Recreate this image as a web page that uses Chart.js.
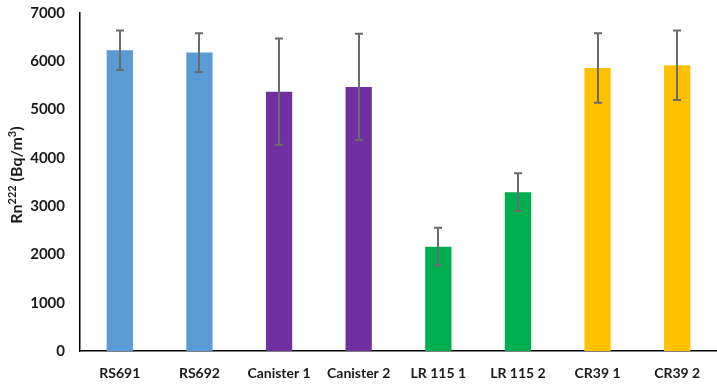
<!DOCTYPE html>
<html>
<head>
<meta charset="utf-8">
<script src="https://cdn.jsdelivr.net/npm/chart.js@4/dist/chart.umd.min.js"></script>
<style>
html,body{margin:0;padding:0;background:#fff;}
#wrap{width:717px;height:384px;}
</style>
</head>
<body>
<div id="wrap"><canvas id="c" width="717" height="384"></canvas></div>
<script>
const categories = ["RS691", "RS692", "Canister 1", "Canister 2", "LR 115 1", "LR 115 2", "CR39 1", "CR39 2"];
const values = [6230, 6180, 5370, 5470, 2160, 3290, 5860, 5920];
const errors = [410, 400, 1100, 1100, 390, 390, 720, 720];
const barColors = ["#5B9BD5", "#5B9BD5", "#7030A0", "#7030A0", "#00B050", "#00B050", "#FFC000", "#FFC000"];
const yTicks = [0, 1000, 2000, 3000, 4000, 5000, 6000, 7000];
// y title pieces: [text, isSuperscript]
const yTitleParts = [["Rn", false], ["222", true], [" (Bq/m", false], ["3", true], [")", false]];

const errorBarPlugin = {
  id: 'errorBars',
  afterDatasetsDraw(chart) {
    const ctx = chart.ctx;
    const meta = chart.getDatasetMeta(0);
    const y = chart.scales.y;
    ctx.save();
    ctx.strokeStyle = '#6b6b6b';
    ctx.lineWidth = 2;
    meta.data.forEach((bar, i) => {
      const x = Math.round(bar.x);
      const top = y.getPixelForValue(values[i] + errors[i]);
      const bot = y.getPixelForValue(values[i] - errors[i]);
      const cap = 4;
      ctx.beginPath();
      ctx.moveTo(x, top); ctx.lineTo(x, bot);
      ctx.moveTo(x - cap, top); ctx.lineTo(x + cap, top);
      ctx.moveTo(x - cap, bot); ctx.lineTo(x + cap, bot);
      ctx.stroke();
    });
    ctx.restore();
  }
};

const yTitlePlugin = {
  id: 'yTitle',
  afterDraw(chart) {
    const ctx = chart.ctx;
    const area = chart.chartArea;
    const normal = "bold 16px Lato";
    const sup = "bold 11px Lato";
    ctx.save();
    let total = 0;
    yTitleParts.forEach(([t, s]) => { ctx.font = s ? sup : normal; total += ctx.measureText(t).width; });
    const cx = 22, cy = (area.top + area.bottom) / 2 - 7;
    ctx.translate(cx, cy);
    ctx.rotate(-Math.PI / 2);
    ctx.fillStyle = '#1a1a1a';
    ctx.textBaseline = 'alphabetic';
    let x = -total / 2;
    yTitleParts.forEach(([t, s]) => {
      ctx.font = s ? sup : normal;
      ctx.fillText(t, x, s ? -6 : 0);
      x += ctx.measureText(t).width;
    });
    ctx.restore();
  }
};

new Chart(document.getElementById('c'), {
  type: 'bar',
  data: {
    labels: categories,
    datasets: [{
      data: values,
      backgroundColor: barColors,
      borderWidth: 0,
      barPercentage: 0.33,
      categoryPercentage: 1.0
    }]
  },
  options: {
    responsive: false,
    animation: false,
    devicePixelRatio: 1,
    layout: { padding: { top: 13, right: 0, left: 6, bottom: 0 } },
    plugins: { legend: { display: false }, tooltip: { enabled: false } },
    scales: {
      x: {
        grid: { display: false, drawTicks: false },
        border: { display: true, color: '#000', width: 1.5 },
        afterFit(axis) { axis.height = 33; axis.paddingLeft = 0; axis.paddingRight = 0; },
        ticks: { color: '#1a1a1a', font: { family: 'Lato', size: 14, weight: 'bold' }, padding: 14, maxRotation: 0, autoSkip: false }
      },
      y: {
        min: 0, max: 7000,
        afterBuildTicks(axis) { axis.ticks = yTicks.map(v => ({ value: v })); },
        afterFit(axis) { axis.width = 74; axis.paddingTop = 0; axis.paddingBottom = 0; },
        grid: { display: false, drawTicks: false },
        border: { display: true, color: '#000', width: 1.5 },
        ticks: { color: '#1a1a1a', font: { family: 'Lato', size: 15, weight: 'bold' }, padding: 15, callback: v => String(v) }
      }
    }
  },
  plugins: [errorBarPlugin, yTitlePlugin]
});
</script>
</body>
</html>
